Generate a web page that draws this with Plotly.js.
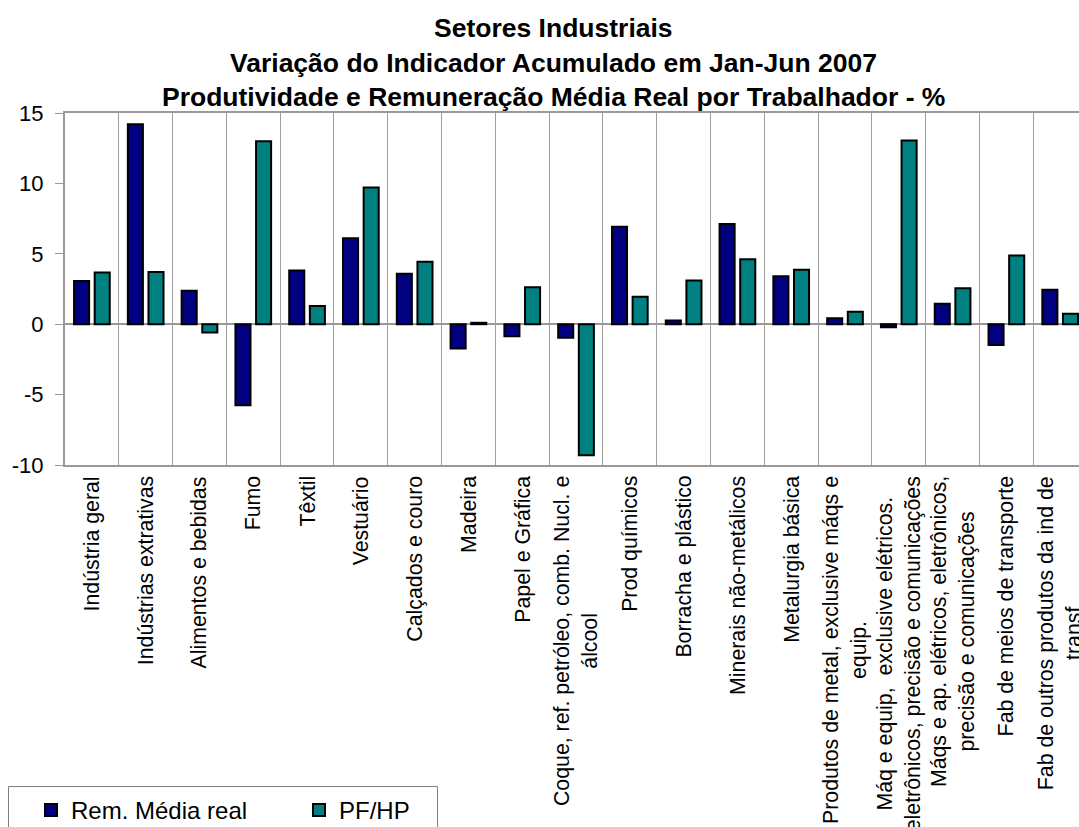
<!DOCTYPE html>
<html>
<head>
<meta charset="utf-8">
<script src="https://cdn.plot.ly/plotly-3.0.1.min.js"></script>
<style>
  html, body { margin: 0; padding: 0; background: #ffffff; }
  #chart { width: 1079px; height: 827px; }
</style>
</head>
<body>
<div id="chart"></div>
<script>
const titleLines = [
  "Setores Industriais",
  "Variação do Indicador Acumulado em Jan-Jun 2007",
  "Produtividade e Remuneração Média Real por Trabalhador - %"
];

const categories = [
  "Indústria geral",
  "Indústrias extrativas",
  "Alimentos e bebidas",
  "Fumo",
  "Têxtil",
  "Vestuário",
  "Calçados e couro",
  "Madeira",
  "Papel e Gráfica",
  "Coque, ref. petróleo, comb. Nucl. e<br>álcool",
  "Prod químicos",
  "Borracha e plástico",
  "Minerais não-metálicos",
  "Metalurgia básica",
  "Produtos de metal, exclusive máqs e<br>equip.",
  "Máq e equip,  exclusive elétricos.<br>eletrônicos, precisão e comunicações",
  "Máqs e ap. elétricos, eletrônicos,<br>precisão e comunicações",
  "Fab de meios de transporte",
  "Fab de outros produtos da ind de<br>transf"
];

const seriesNames = ["Rem. Média real", "PF/HP"];

const remMediaReal = [3.06, 14.2, 2.38, -5.76, 3.82, 6.1, 3.58, -1.72, -0.85, -0.97, 6.93, 0.26, 7.12, 3.4, 0.42, -0.21, 1.46, -1.47, 2.45];
const pfHp = [3.68, 3.7, -0.59, 13.0, 1.3, 9.7, 4.43, 0.1, 2.62, -9.3, 1.95, 3.11, 4.62, 3.87, 0.89, 13.04, 2.55, 4.88, 0.75];

const yTickValues = [-10, -5, 0, 5, 10, 15];

const FONT = "Arial, 'Liberation Sans', sans-serif";

const traces = [
  {
    type: "bar",
    name: seriesNames[0],
    x: categories,
    y: remMediaReal,
    marker: { color: "#000080", line: { color: "#000000", width: 2 } },
    hoverinfo: "skip"
  },
  {
    type: "bar",
    name: seriesNames[1],
    x: categories,
    y: pfHp,
    marker: { color: "#008080", line: { color: "#000000", width: 2 } },
    hoverinfo: "skip"
  }
];

const annotations = [];
const titleShifts = [85, 50, 16];
titleLines.forEach((t, i) => {
  annotations.push({
    text: "<b>" + t + "</b>",
    xref: "paper", yref: "paper",
    x: 0.4822, y: 1,
    xanchor: "center", yanchor: "middle",
    yshift: titleShifts[i],
    showarrow: false,
    font: { family: FONT, size: 26.5, color: "#000000" }
  });
});
categories.forEach((c, i) => {
  annotations.push({
    text: c,
    xref: "x", yref: "paper",
    x: i, y: 0,
    xanchor: "center", yanchor: "top",
    yshift: -9,
    textangle: -90,
    align: "center",
    showarrow: false,
    font: { family: FONT, size: 21.3, color: "#000000" }
  });
});

// legend frame (pixel geometry converted to paper coordinates)
const plotL = 65, plotW = 1014, plotT = 113, plotH = 352;
const px2x = (px) => (px - plotL) / plotW;
const py2y = (py) => (plotT + plotH - py) / plotH;

const layout = {
  width: 1079,
  height: 827,
  paper_bgcolor: "#ffffff",
  plot_bgcolor: "#ffffff",
  margin: { l: 65, r: 0, t: 113, b: 362, pad: 0 },
  font: { family: FONT, color: "#000000" },
  barmode: "group",
  bargap: 0.233,
  bargroupgap: 0.27,
  showlegend: true,
  legend: {
    orientation: "h",
    xref: "container", yref: "container",
    x: 31 / 1079, y: 1 - 788 / 827,
    xanchor: "left", yanchor: "top",
    bgcolor: "rgba(0,0,0,0)",
    borderwidth: 0,
    entrywidth: 223,
    font: { family: FONT, size: 24, color: "#000000" }
  },
  shapes: [{
    type: "rect",
    xref: "paper", yref: "paper",
    x0: px2x(8.5), x1: px2x(437.5),
    y0: py2y(786.5), y1: py2y(840),
    line: { color: "#808080", width: 1 },
    fillcolor: "rgba(0,0,0,0)",
    layer: "above"
  }],
  xaxis: {
    type: "category",
    range: [-0.5, 18.35],
    tickson: "boundaries",
    showgrid: true,
    gridcolor: "#a0a0a0",
    gridwidth: 1,
    showticklabels: false,
    ticks: "",
    showline: true,
    linecolor: "#999999",
    linewidth: 2,
    mirror: true,
    zeroline: false,
    fixedrange: true
  },
  yaxis: {
    range: [-10, 15],
    tickmode: "array",
    tickvals: yTickValues,
    ticktext: yTickValues.map(String),
    ticks: "outside",
    ticklen: 8,
    tickwidth: 1,
    tickcolor: "#999999",
    ticklabelstandoff: 7,
    tickfont: { family: FONT, size: 22, color: "#000000" },
    showgrid: false,
    showline: true,
    linecolor: "#999999",
    linewidth: 2,
    zeroline: true,
    zerolinecolor: "#999999",
    zerolinewidth: 1.5,
    fixedrange: true
  },
  annotations: annotations
};

Plotly.newPlot("chart", traces, layout, { displayModeBar: false, staticPlot: true });
</script>
</body>
</html>
